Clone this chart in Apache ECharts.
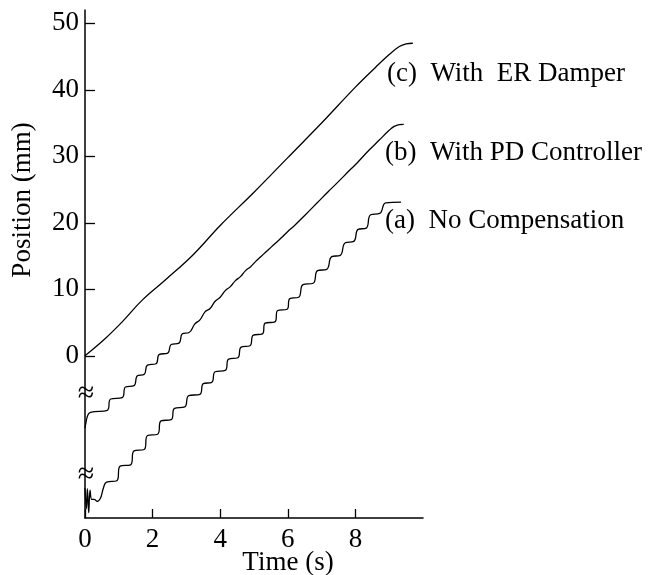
<!DOCTYPE html>
<html>
<head>
<meta charset="utf-8">
<title>Position vs Time</title>
<script src="https://cdn.jsdelivr.net/npm/echarts@6/dist/echarts.min.js"></script>
<style>
  html, body { margin: 0; padding: 0; background: #fff; }
  #chart { width: 657px; height: 575px; }
</style>
</head>
<body>
<div id="chart"></div>
<script>
// axis ticks
const xTicks = [0, 2, 4, 6, 8]
const yTicks = [0, 10, 20, 30, 40, 50]

// (c) with ER damper  [time (s), position (mm)]
const erDamper = [
  [0, 0], [0.6, 2.6], [1.1, 5.1], [1.7, 8.4], [2.4, 11.5], [3.2, 15.2], [4.0, 19.6],
  [5.0, 24.6], [6.0, 29.8], [7.0, 35.0], [8.0, 40.4], [8.6, 43.4], [9.0, 45.3],
  [9.3, 46.5], [9.5, 46.9], [9.7, 47.0]
]

// (b) with PD controller, plotted offset below zero
const pdController = [
  [0, -10.9], [0.03, -10.0], [0.08, -9.0], [0.16, -8.5], [0.66, -8.2],
  [0.76, -6.5], [1.10, -6.3], [1.20, -4.7], [1.45, -4.5], [1.55, -3.0], [1.75, -2.8],
  [1.85, -1.4], [2.10, -1.2], [2.20, 0.2], [2.45, 0.4], [2.55, 1.7], [2.78, 1.9],
  [2.88, 3.3], [3.08, 3.5], [3.25, 4.8], [3.4, 5.4], [3.55, 6.6], [3.7, 7.1],
  [3.85, 8.2], [4.0, 8.8], [4.15, 9.8], [4.3, 10.4], [4.45, 11.3], [4.6, 11.9],
  [4.75, 12.8], [4.9, 13.4], [5.05, 14.2], [5.2, 14.9], [5.35, 15.6], [5.5, 16.3],
  [5.65, 17.0], [5.8, 17.7], [6.0, 18.7], [6.2, 19.6], [6.5, 21.1], [6.87, 23.0],
  [7.2, 24.7], [7.46, 26.0], [7.85, 28.0], [8.05, 29.0], [8.4, 30.9], [8.7, 32.4],
  [9.0, 33.9], [9.15, 34.5], [9.3, 34.75], [9.43, 34.8]
]

// (a) no compensation, plotted offset below zero
const noCompensation = [
  [0, -19.9], [0.04, -23.0], [0.07, -20.0], [0.11, -23.6], [0.15, -20.2], [0.2, -21.6],
  [0.27, -21.6], [0.36, -21.9], [0.46, -21.4], [0.55, -19.8], [0.64, -19.0], [0.94, -18.8],
  [1.04, -16.6], [1.35, -16.4], [1.45, -14.3], [1.75, -14.1], [1.85, -12.0], [2.15, -11.8],
  [2.25, -9.8], [2.55, -9.6], [2.65, -7.9], [2.95, -7.7], [3.07, -6.0], [3.40, -5.8],
  [3.50, -4.2], [3.75, -4.0], [3.85, -2.4], [4.15, -2.2], [4.25, -0.5], [4.52, -0.3],
  [4.62, 1.3], [4.88, 1.5], [4.98, 3.1], [5.25, 3.3], [5.33, 4.9], [5.62, 5.1],
  [5.70, 6.8], [5.98, 7.0], [6.06, 8.6], [6.32, 8.8], [6.45, 10.7], [6.75, 10.9],
  [6.88, 12.8], [7.15, 13.0], [7.30, 14.9], [7.55, 15.1], [7.70, 17.0], [7.95, 17.2],
  [8.08, 19.0], [8.32, 19.2], [8.45, 21.2], [8.72, 21.4], [8.90, 23.0], [9.35, 23.1]
]

const curveLabels = ['(c)  With  ER Damper', '(b)  With PD Controller', '(a)  No Compensation']
// axis break marks (plotted mm)
const breakMarks = [-5.7, -17.9]

const font = "'Liberation Serif', 'Times New Roman', serif"
const chart = echarts.init(document.getElementById('chart'))

function line(data, smooth) {
  return {
    type: 'line',
    data: data,
    smooth: smooth,
    showSymbol: false,
    lineStyle: { color: '#000', width: 1.3 }
  }
}

chart.setOption({
  animation: false,
  backgroundColor: '#fff',
  grid: { left: 85, right: 234, top: 10, bottom: 57 },
  xAxis: {
    type: 'value',
    min: 0,
    max: 10,
    axisLine: { onZero: false, lineStyle: { color: '#000', width: 1.5 } },
    axisTick: { inside: true, length: 9, customValues: xTicks, lineStyle: { color: '#000', width: 1.3 } },
    axisLabel: { customValues: xTicks, margin: 8, color: '#000', fontSize: 27, fontFamily: font },
    splitLine: { show: false }
  },
  yAxis: {
    type: 'value',
    min: -24.4,
    max: 52,
    axisLine: { show: true, onZero: false, lineStyle: { color: '#000', width: 1.5 } },
    axisTick: { show: true, inside: true, length: 10, customValues: yTicks, lineStyle: { color: '#000', width: 1.3 } },
    axisLabel: { customValues: yTicks, margin: 6, color: '#000', fontSize: 27, fontFamily: font },
    splitLine: { show: false }
  },
  series: [
    line(erDamper, 0.4),
    line(pdController, 0.45),
    line(noCompensation, 0.45)
  ]
})

const textStyle = { fill: '#000', fontSize: 27, fontFamily: font }
const graphics = [
  { type: 'text', x: 23, y: 200, rotation: Math.PI / 2,
    style: Object.assign({ text: 'Position (mm)', align: 'center', verticalAlign: 'middle' }, textStyle) },
  { type: 'text', x: 288, y: 563,
    style: Object.assign({ text: 'Time (s)', align: 'center', verticalAlign: 'middle' }, textStyle) }
]
const labelPos = [[387, 74], [385, 153], [385, 221]]
curveLabels.forEach(function (t, i) {
  graphics.push({ type: 'text', x: labelPos[i][0], y: labelPos[i][1],
    style: Object.assign({ text: t, align: 'left', verticalAlign: 'middle' }, textStyle) })
})
breakMarks.forEach(function (v) {
  const p = chart.convertToPixel({ gridIndex: 0 }, [0, v])
  graphics.push({ type: 'text', x: p[0] + 1, y: p[1],
    style: { text: '≈', align: 'center', verticalAlign: 'middle', fill: '#000', fontSize: 30, fontFamily: font } })
})
chart.setOption({ graphic: graphics })
</script>
</body>
</html>
